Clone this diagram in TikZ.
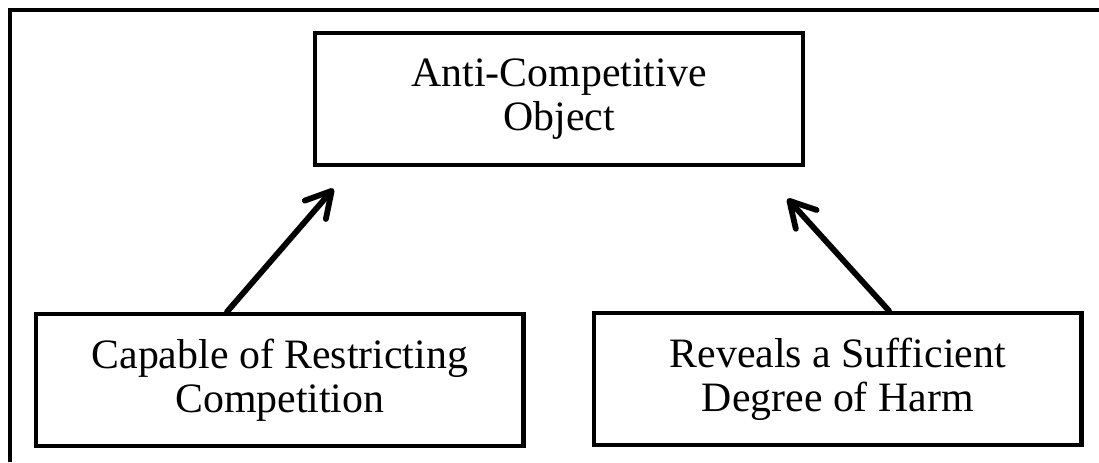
\documentclass[tikz,border=0pt]{standalone}
\usepackage{fontspec}
\setmainfont{Liberation Serif}
\usetikzlibrary{arrows.meta,positioning}

\begin{document}
\begin{tikzpicture}[
    font=\fontsize{23.8}{25}\selectfont,
    claim/.style={draw=black, line width=2.5pt, minimum width=9.75cm, minimum height=2.64cm, align=center, inner sep=0pt},
    arrow/.style={-{Straight Barb[length=5mm,width=5.6mm,round]}, line width=3.3pt, line cap=round}
  ]
    \useasboundingbox (0,0) rectangle (21.98,9.24);
    \draw[line width=2pt] (0.2,0) -- (0.2,9.04) -- (21.98,9.04);

    \node[claim] (object) at (11.18,7.26) {Anti-Competitive\\Object};
    \node[claim] (restrict) at (5.595,1.64) {Capable of Restricting\\Competition};
    \node[claim] (harm) at (16.755,1.66) {Reveals a Sufficient\\Degree of Harm};

    \coordinate (tipL) at ([shift={(0.41,-0.43)}]object.south west);
    \coordinate (tipR) at ([shift={(-0.35,-0.63)}]object.south east);

    \draw[arrow] ([xshift=-1.055cm]restrict.north) -- (tipL);
    \draw[arrow] ([xshift=1.025cm]harm.north) -- (tipR);
  \end{tikzpicture}
\end{document}
